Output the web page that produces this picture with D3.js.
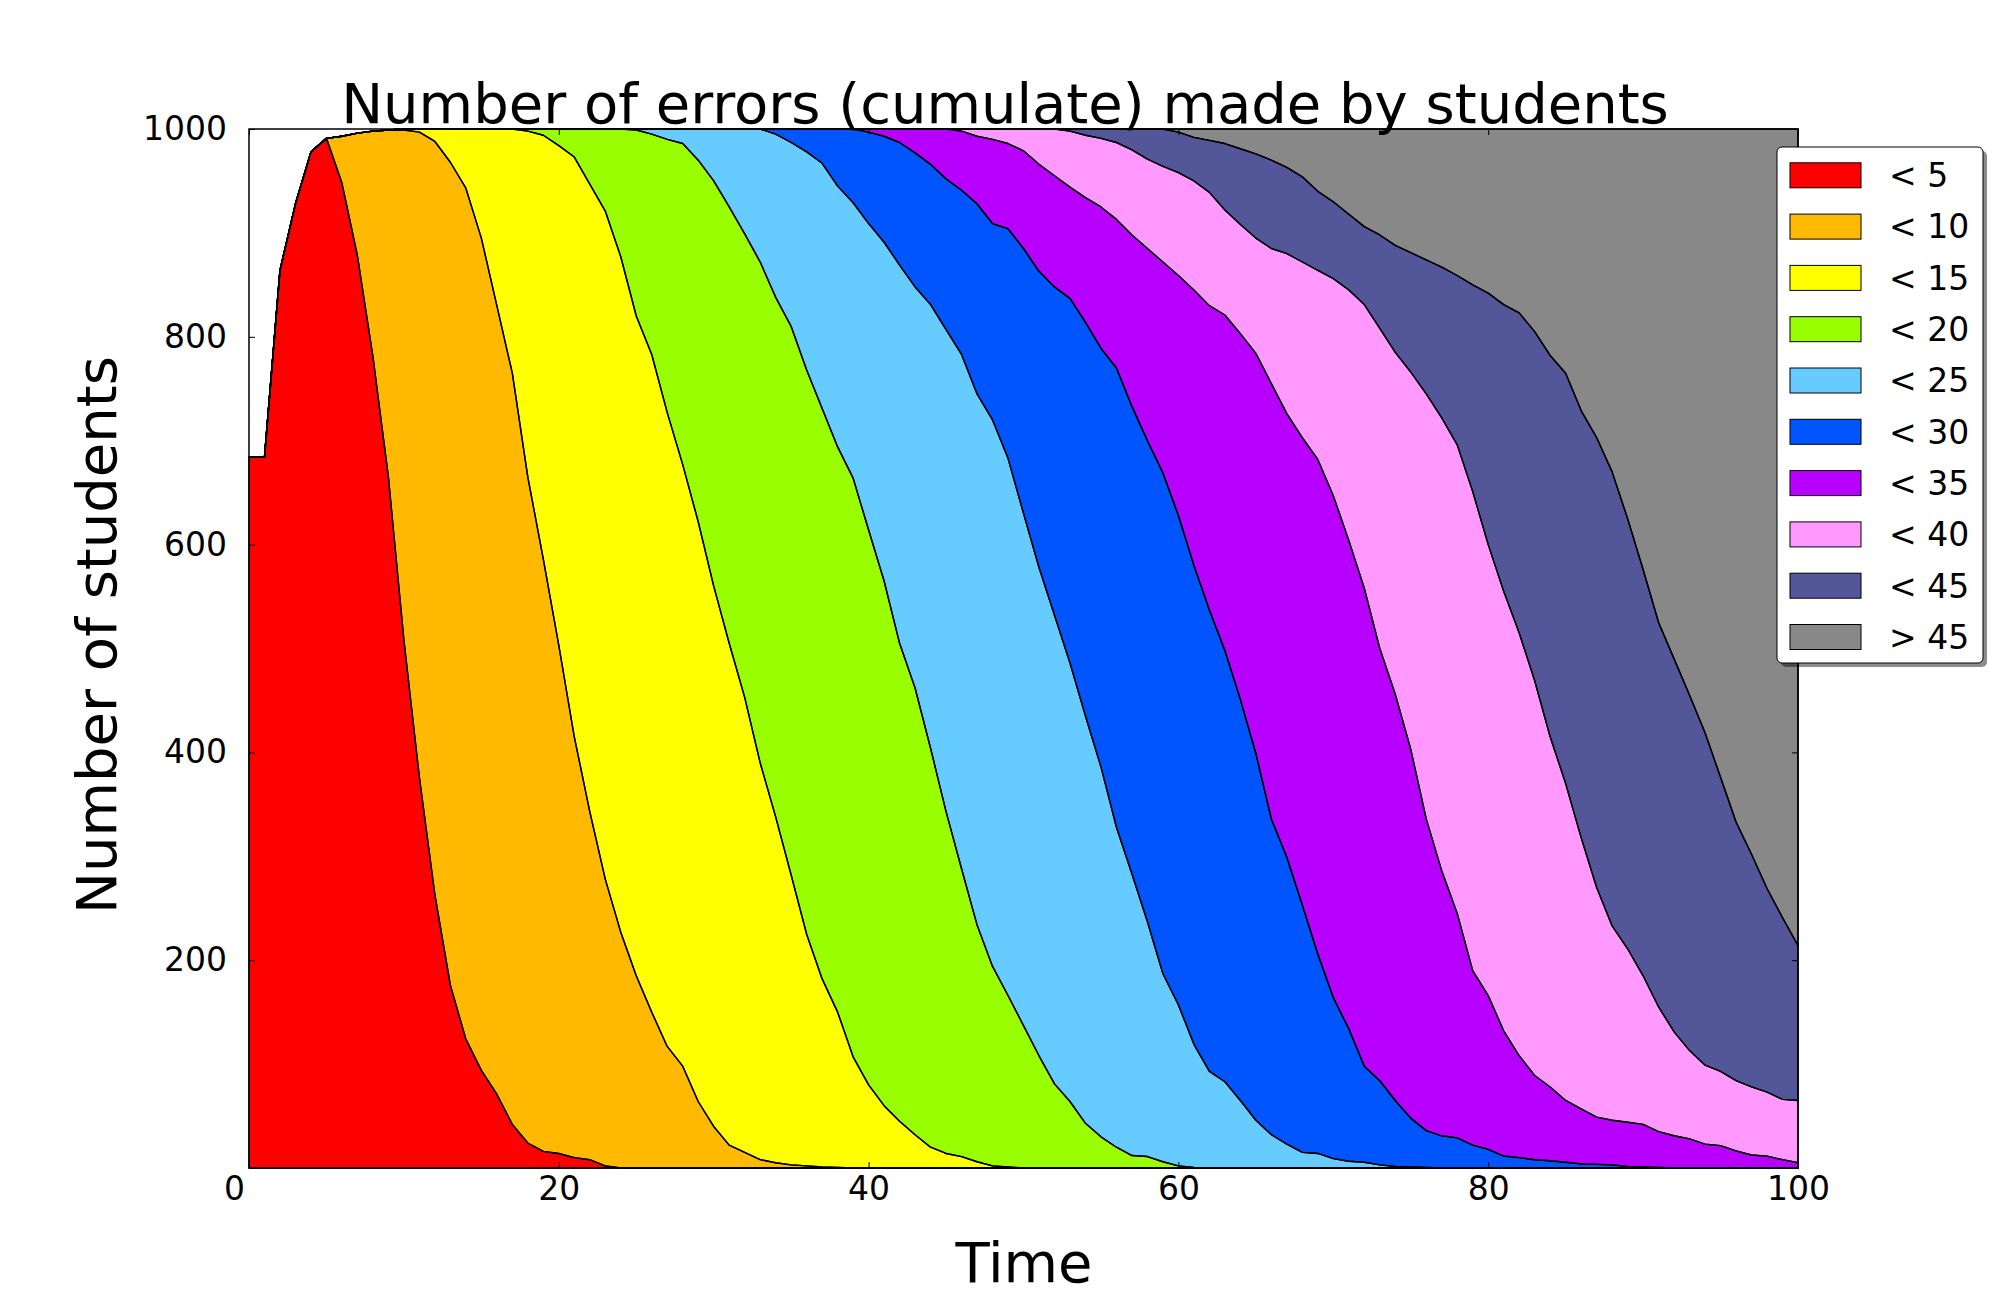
<!DOCTYPE html>
<html><head><meta charset="utf-8">
<script src="https://cdn.jsdelivr.net/npm/d3@7"></script>
<style>
html,body{margin:0;padding:0;background:#fff;}
svg{display:block;font-family:"DejaVu Sans",sans-serif;}
</style></head><body>
<svg id="chart" width="2000" height="1300"></svg>
<script>
// Time steps 0..100
const time = d3.range(0, 101);
const categories = ["< 5", "< 10", "< 15", "< 20", "< 25", "< 30", "< 35", "< 40", "< 45", "> 45"];
const colors = ["#ff0000", "#ffb900", "#ffff00", "#99ff00", "#66ccff", "#0055ff", "#b700ff", "#ff99ff", "#535799", "#888888"];
const xTicks = [0, 20, 40, 60, 80, 100];
const yTicks = [0, 200, 400, 600, 800, 1000];

// Cumulative number of students (upper boundary of each band), t = 0..100
const lt5 = [
684,684,864,928,978,991,948,878,781,665,
508,376,263,176,124,94,71,42,24,16,
14,10,8,2,0,0,0,0,0,0,
0,0,0,0,0,0,0,0,0,0,
0,0,0,0,0,0,0,0,0,0,
0,0,0,0,0,0,0,0,0,0,
0,0,0,0,0,0,0,0,0,0,
0,0,0,0,0,0,0,0,0,0,
0,0,0,0,0,0,0,0,0,0,
0,0,0,0,0,0,0,0,0,0,
0];
const lt10 = [
684,684,864,928,978,991,993,996,998,999,
999,997,988,968,943,895,830,765,665,586,
503,415,343,278,227,185,150,117,98,64,
40,22,15,8,5,3,2,1,0.5,0,
0,0,0,0,0,0,0,0,0,0,
0,0,0,0,0,0,0,0,0,0,
0,0,0,0,0,0,0,0,0,0,
0,0,0,0,0,0,0,0,0,0,
0,0,0,0,0,0,0,0,0,0,
0,0,0,0,0,0,0,0,0,0,
0];
const lt15 = [
684,684,864,928,978,991,993,996,998,999,
1000,1000,1000,1000,1000,1000,1000,1000,998,994,
984,973,947,921,877,820,783,727,677,622,
560,505,453,390,338,282,225,182,150,107,
80,60,45,32,20,14,11,6,2,1,
0,0,0,0,0,0,0,0,0,0,
0,0,0,0,0,0,0,0,0,0,
0,0,0,0,0,0,0,0,0,0,
0,0,0,0,0,0,0,0,0,0,
0,0,0,0,0,0,0,0,0,0,
0];
const lt20 = [
684,684,864,928,978,991,993,996,998,999,
1000,1000,1000,1000,1000,1000,1000,1000,1000,1000,
1000,1000,1000,1000,1000,999,995,990,986,970,
950,925,899,872,838,810,768,731,694,664,
614,565,505,462,404,343,288,234,194,166,
137,108,81,64,43,30,20,12,11,6,
2,0.5,0,0,0,0,0,0,0,0,
0,0,0,0,0,0,0,0,0,0,
0,0,0,0,0,0,0,0,0,0,
0,0,0,0,0,0,0,0,0,0,
0];
const lt25 = [
684,684,864,928,978,991,993,996,998,999,
1000,1000,1000,1000,1000,1000,1000,1000,1000,1000,
1000,1000,1000,1000,1000,1000,1000,1000,1000,1000,
1000,1000,1000,1000,995,987,978,967,945,929,
909,891,869,848,831,807,783,745,720,683,
630,578,532,486,435,386,328,283,237,187,
157,119,93,83,65,46,32,23,15,14,
9,6.5,5.5,3,1.5,1,0.5,0,0,0,
0,0,0,0,0,0,0,0,0,0,
0,0,0,0,0,0,0,0,0,0,
0];
const lt30 = [
684,684,864,928,978,991,993,996,998,999,
1000,1000,1000,1000,1000,1000,1000,1000,1000,1000,
1000,1000,1000,1000,1000,1000,1000,1000,1000,1000,
1000,1000,1000,1000,1000,1000,1000,1000,1000,1000,
997,993,987,977,966,952,941,928,909,904,
885,863,848,837,814,789,770,733,700,669,
628,580,537,498,451,399,336,299,253,206,
164,134,98,84,65,48,36,31,29,22,
18,11.5,10,8,7,5.5,4,3.5,3,1.5,
1,0.5,0,0,0,0,0,0,0,0,
0];
const lt35 = [
684,684,864,928,978,991,993,996,998,999,
1000,1000,1000,1000,1000,1000,1000,1000,1000,1000,
1000,1000,1000,1000,1000,1000,1000,1000,1000,1000,
1000,1000,1000,1000,1000,1000,1000,1000,1000,1000,
1000,1000,1000,1000,1000,1000,998,993,990,986,
979,966,955,944,934,925,913,898,885,872,
859,845,830,821,803,784,755,726,703,682,
647,604,558,500,456,403,336,286,245,190,
166,132,108,89,78,65,57,49,46,44,
42,35,31,28,23,21.5,16.5,12.5,11.4,8,
5];
const lt40 = [
684,684,864,928,978,991,993,996,998,999,
1000,1000,1000,1000,1000,1000,1000,1000,1000,1000,
1000,1000,1000,1000,1000,1000,1000,1000,1000,1000,
1000,1000,1000,1000,1000,1000,1000,1000,1000,1000,
1000,1000,1000,1000,1000,1000,1000,1000,1000,1000,
1000,1000,1000,998,994,991,987,980,971,964,
958,950,939,922,908,895,885,880,872,864,
856,845,831,808,785,766,745,722,696,651,
600,555,515,469,415,370,318,270,233,211,
185,155,131,113,99,93,84,78,73,66,
65];
const lt45 = [
684,684,864,928,978,991,993,996,998,999,
1000,1000,1000,1000,1000,1000,1000,1000,1000,1000,
1000,1000,1000,1000,1000,1000,1000,1000,1000,1000,
1000,1000,1000,1000,1000,1000,1000,1000,1000,1000,
1000,1000,1000,1000,1000,1000,1000,1000,1000,1000,
1000,1000,1000,1000,1000,1000,1000,1000,1000,1000,
997,992,989,986,981,976,970,963,954,940,
930,918,906,898,888,881,874,867,859,850,
842,831,823,805,782,765,729,703,670,625,
576,525,490,455,419,376,333,302,269,241,
214];
const total = [
684,684,864,928,978,991,993,996,998,999,
1000,1000,1000,1000,1000,1000,1000,1000,1000,1000,
1000,1000,1000,1000,1000,1000,1000,1000,1000,1000,
1000,1000,1000,1000,1000,1000,1000,1000,1000,1000,
1000,1000,1000,1000,1000,1000,1000,1000,1000,1000,
1000,1000,1000,1000,1000,1000,1000,1000,1000,1000,
1000,1000,1000,1000,1000,1000,1000,1000,1000,1000,
1000,1000,1000,1000,1000,1000,1000,1000,1000,1000,
1000,1000,1000,1000,1000,1000,1000,1000,1000,1000,
1000,1000,1000,1000,1000,1000,1000,1000,1000,1000,
1000];

const cumulative = [lt5, lt10, lt15, lt20, lt25, lt30, lt35, lt40, lt45, total];

const W = 2000, H = 1300;
const m = {left: 249, right: 1798, top: 129, bottom: 1168};
const svg = d3.select("#chart");
svg.append("rect").attr("width", W).attr("height", H).attr("fill", "#fff");

const x = d3.scaleLinear().domain([0, 100]).range([m.left, m.right]);
const y = d3.scaleLinear().domain([0, 1000]).range([m.bottom, m.top]);

const layers = cumulative.map((arr, i) => time.map((t, j) => ({
  t: t, y0: i === 0 ? 0 : cumulative[i - 1][j], y1: arr[j]
})));
const area = d3.area().x(d => x(d.t)).y0(d => y(d.y0)).y1(d => y(d.y1));

const plot = svg.append("g");
plot.selectAll("path.band").data(layers).join("path")
  .attr("class", "band").attr("d", area)
  .attr("fill", (d, i) => colors[i]).attr("stroke", "none");
plot.selectAll("path.edge").data(layers).join("path")
  .attr("class", "edge").attr("d", area)
  .attr("fill", "none").attr("stroke", "#000").attr("stroke-width", 1.4)
  .attr("stroke-linejoin", "round");

// Axes with inward ticks on all four sides
function styleAxis(g) {
  g.select(".domain").remove();
  g.selectAll(".tick line").attr("stroke", "#000").attr("stroke-width", 1);
  g.selectAll(".tick text").attr("font-size", 33).attr("font-family", "DejaVu Sans").attr("fill", "#000");
}
const gx = svg.append("g").attr("transform", `translate(0,${m.bottom})`)
  .call(d3.axisBottom(x).tickValues(xTicks).tickSizeInner(-6).tickSizeOuter(0).tickPadding(9));
styleAxis(gx);
gx.selectAll(".tick").filter(d => d === 0).select("text").attr("dx", -15);

const gxt = svg.append("g").attr("transform", `translate(0,${m.top})`)
  .call(d3.axisTop(x).tickValues(xTicks).tickSizeInner(-6).tickSizeOuter(0).tickFormat(""));
styleAxis(gxt);

const gy = svg.append("g").attr("transform", `translate(${m.left},0)`)
  .call(d3.axisLeft(y).tickValues(yTicks).tickSizeInner(-6).tickSizeOuter(0).tickPadding(22)
    .tickFormat(d => d === 0 ? "" : d));
styleAxis(gy);

const gyr = svg.append("g").attr("transform", `translate(${m.right},0)`)
  .call(d3.axisRight(y).tickValues(yTicks).tickSizeInner(-6).tickSizeOuter(0).tickFormat(""));
styleAxis(gyr);

svg.append("rect").attr("x", m.left).attr("y", m.top)
  .attr("width", m.right - m.left).attr("height", m.bottom - m.top)
  .attr("fill", "none").attr("stroke", "#000").attr("stroke-width", 1.5);

// Titles
svg.append("text").attr("x", 1005).attr("y", 123).attr("text-anchor", "middle")
  .attr("font-size", 56).attr("fill", "#000").text("Number of errors (cumulate) made by students");
svg.append("text").attr("x", 1024).attr("y", 1282).attr("text-anchor", "middle")
  .attr("font-size", 56).attr("fill", "#000").text("Time");
svg.append("text").attr("transform", "translate(116,635) rotate(-90)").attr("text-anchor", "middle")
  .attr("font-size", 56).attr("fill", "#000").text("Number of students");

// Legend
const lg = {x: 1777, y: 147, w: 206, h: 516};
svg.append("rect").attr("x", lg.x + 4).attr("y", lg.y + 4).attr("width", lg.w).attr("height", lg.h)
  .attr("rx", 5).attr("fill", "#000").attr("opacity", 0.45);
svg.append("rect").attr("x", lg.x).attr("y", lg.y).attr("width", lg.w).attr("height", lg.h)
  .attr("rx", 5).attr("fill", "#fff").attr("stroke", "#000").attr("stroke-width", 1);
const rows = svg.append("g").selectAll("g").data(categories).join("g")
  .attr("transform", (d, i) => `translate(0,${175.3 + i * 51.3})`);
rows.append("rect").attr("x", 1790).attr("y", -12.5).attr("width", 71).attr("height", 25)
  .attr("fill", (d, i) => colors[i]).attr("stroke", "#000").attr("stroke-width", 1);
rows.append("text").attr("x", 1889).attr("y", 0).attr("dy", "0.36em")
  .attr("font-size", 33).attr("fill", "#000").text(d => d);
</script>
</body></html>
